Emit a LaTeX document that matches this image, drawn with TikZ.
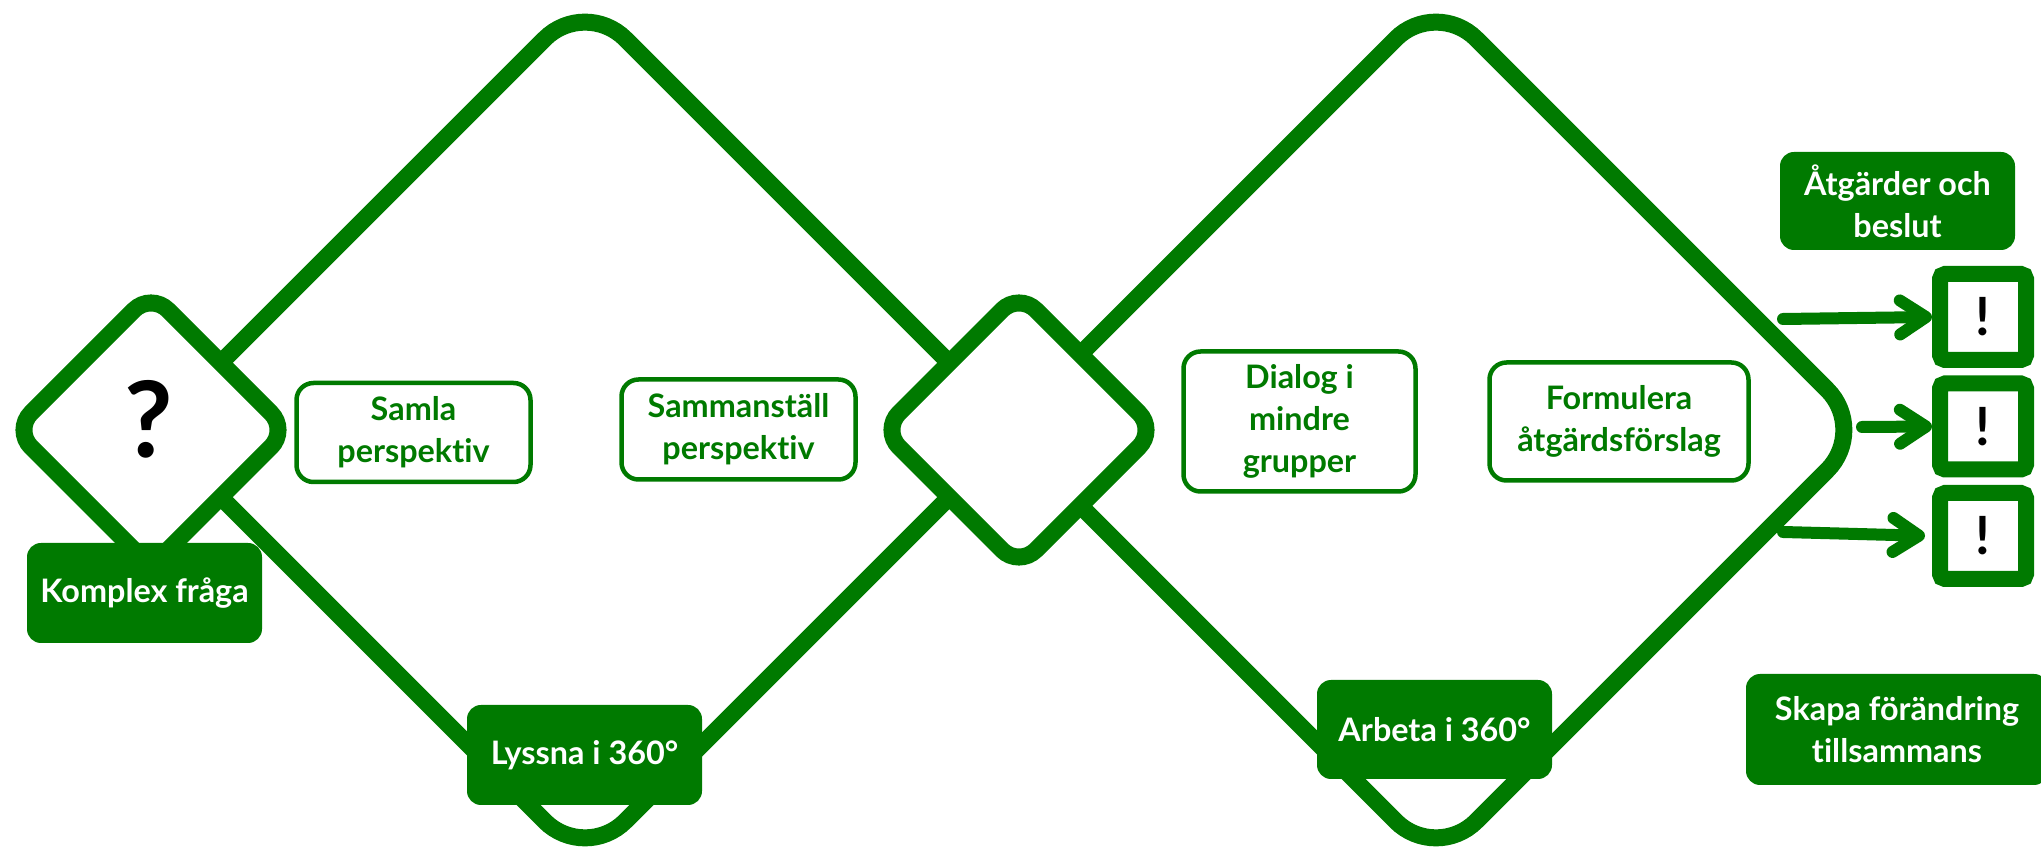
\documentclass[tikz,border=0pt]{standalone}
\usepackage{fontspec}
\setmainfont{Lato}[Ligatures=NoCommon]
\usetikzlibrary{shapes.geometric,arrows.meta}
\definecolor{leafgreen}{RGB}{0,122,0}
\newcommand*{\px}{0.01cm}
\newcommand*{\lwdia}{17*\px}
\tikzset{
	bigdia/.style={
		diamond,
		minimum size=870*\px,
		inner sep=0pt,
		draw=leafgreen,
		line width=\lwdia,
		rounded corners=57*\px
	},
	smalldia/.style={
		diamond,
		minimum size=281*\px,
		inner sep=0pt,
		draw=leafgreen,
		fill=white,
		line width=\lwdia,
		rounded corners=24*\px
	},
	openbox/.style 2 args={
		rectangle,
		minimum width=#1*\px,
		minimum height=#2*\px,
		inner sep=0pt,
		draw=leafgreen,
		fill=white,
		line width=4.5*\px,
		rounded corners=17*\px,
		align=center,
		text=leafgreen,
		font=\bfseries\fontsize{9.2}{11.9}\selectfont
	},
	filledbox/.style 2 args={
		rectangle,
		minimum width=#1*\px,
		minimum height=#2*\px,
		inner sep=0pt,
		fill=leafgreen,
		rounded corners=14*\px,
		align=center,
		text=white,
		font=\bfseries\fontsize{9.2}{11.9}\selectfont
	},
	bangbox/.style={
		rectangle,
		minimum size=86*\px,
		inner sep=0pt,
		draw=leafgreen,
		fill=white,
		line width=16*\px,
		rounded corners=5*\px,
		font=\bfseries\fontsize{15}{15}\selectfont
	},
	arrowline/.style={
		draw=leafgreen,
		line width=12*\px,
		line cap=round,
		-{Straight Barb[length=2.6mm,width=3.4mm,line cap=round,line join=round]}
	}
}
\begin{document}
\begin{tikzpicture}[x=\px,y=-\px]
	\useasboundingbox (0,0) rectangle (2041,849);
	\node (listen) [bigdia] at (585,430) {};
	\node (work) [bigdia] at (1436,430) {};
	\node (question) [smalldia] at (151,430) {};
	\node (mid) [smalldia] at (1019,430) {};
	\node (qmark) [font=\bfseries\fontsize{30}{30}\selectfont] at (149,419) {?};
	\node (komplex) [filledbox={235}{100}] at (144.5,593) {Komplex fråga};
	\node (samla) [openbox={234}{99}] at (413.5,432.5) {Samla\\perspektiv};
	\node (sammanst) [openbox={234}{100}] at (738.5,429.5) {Sammanställ\\perspektiv};
	\node (lyssna) [filledbox={235}{100}] at (584.5,755) {Lyssna i 360°};
	\node (dialog) [openbox={232}{140}] at (1299.5,421.5) {Dialog i\\mindre\\grupper};
	\node (formulera) [openbox={259}{118}] at (1619,421.5) {Formulera\\åtgärdsförslag};
	\node (arbeta) [filledbox={235}{99}] at (1434.5,729.5) {Arbeta i 360°};
	\node (atgard) [filledbox={235}{98}] at (1897.5,201) {Åtgärder och\\beslut};
	\node (skapa) [filledbox={302}{111}] at (1897,729.5) {Skapa förändring\\tillsammans};
	\foreach \i/\y in {1/317,2/426.5,3/536} {
		\node (bang\i) [bangbox] at (1983,\y) {!};
	};
	\coordinate (from1) at (1783,319);
	\coordinate (from2) at (1862,427);
	\coordinate (from3) at (1783,532);
	\foreach \i/\gap in {1/0,2/0,3/7} {
		\draw [arrowline,shorten >=\gap*\px] (from\i) -- (bang\i.west);
	};
\end{tikzpicture}
\end{document}
